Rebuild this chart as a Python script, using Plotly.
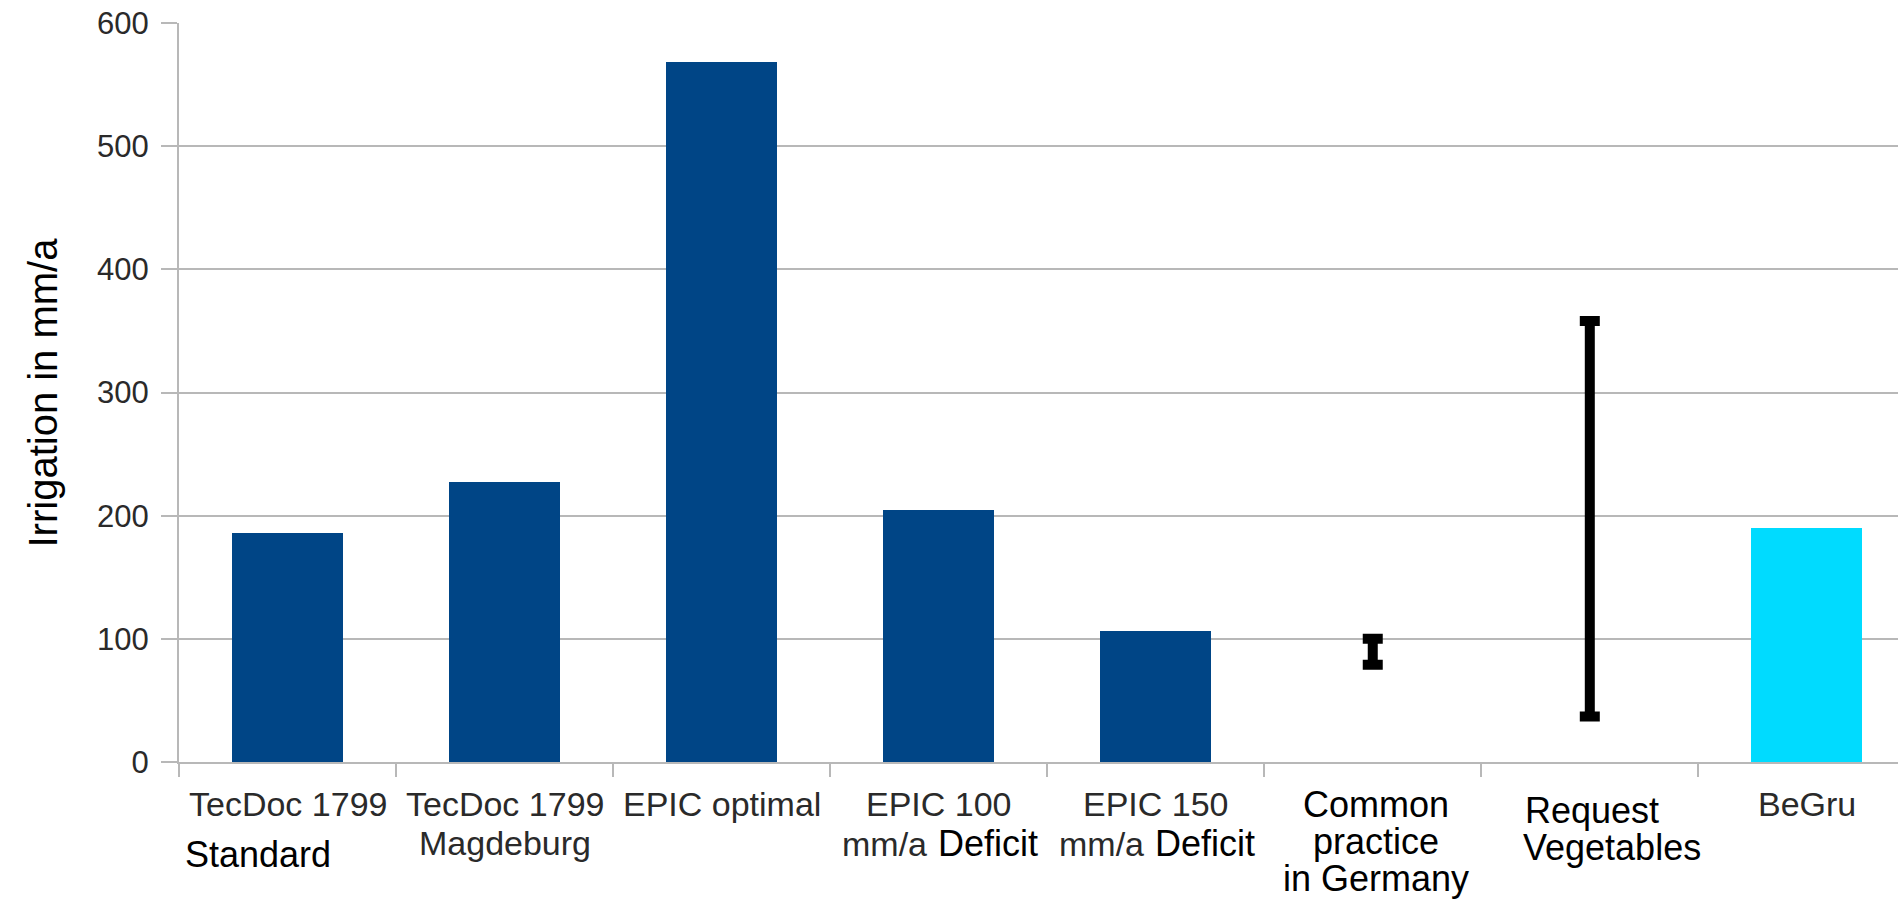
import plotly.graph_objects as go

# ---- data -------------------------------------------------------------
categories = [
    "TecDoc 1799 Standard",
    "TecDoc 1799 Magdeburg",
    "EPIC optimal",
    "EPIC 100 mm/a Deficit",
    "EPIC 150 mm/a Deficit",
    "Common practice in Germany",
    "Request Vegetables",
    "BeGru",
]

# single values shown as bars
bar_categories = [categories[0], categories[1], categories[2],
                  categories[3], categories[4], categories[7]]
bar_values = [186, 227, 568, 205, 106, 190]

# ranges shown as min/max whiskers
range_categories = [categories[5], categories[6]]
range_low = [79, 37]
range_high = [100, 358]

y_ticks = [0, 100, 200, 300, 400, 500, 600]
y_title = "Irrigation in mm/a"

# category label lines (first line from the chart software, extra lines added)
label_line1 = ["TecDoc 1799", "TecDoc 1799", "EPIC optimal", "EPIC 100",
               "EPIC 150", "", "", "BeGru"]
label_line2 = ["", "Magdeburg", "", "mm/a", "mm/a", "", "", ""]
note_standard = "Standard"
note_deficit = "Deficit"
note_common = ["Common", "practice", "in Germany"]
note_request = ["Request", "Vegetables"]

# ---- styling ----------------------------------------------------------
DARK_BLUE = "#004586"
CYAN = "#00dbff"
GRID = "#b8b8b8"
GREY_TEXT = "#2a2a2a"
FONT = "Liberation Sans, Arial, sans-serif"
W, H = 1898, 916
TOP, BOTTOM_Y = 23, 762          # pixel rows of 600 and 0
LEFT = 179

bar_colors = [DARK_BLUE] * 5 + [CYAN]

fig = go.Figure()

fig.add_bar(
    x=bar_categories, y=bar_values,
    marker=dict(color=bar_colors, line=dict(width=0)),
    width=0.51, hoverinfo="x+y",
)

mid = [(lo + hi) / 2 for lo, hi in zip(range_low, range_high)]
half = [(hi - lo) / 2 for lo, hi in zip(range_low, range_high)]
fig.add_scatter(
    x=range_categories, y=mid, mode="markers",
    marker=dict(opacity=0, size=1),
    error_y=dict(type="data", array=half, symmetric=True,
                 color="black", thickness=10, width=10),
    hoverinfo="skip",
)


def label(text, cat, baseline, size, color, dx=0):
    """Place one text line below the axis with its baseline at a pixel row."""
    center = baseline - 0.3465 * size
    fig.add_annotation(
        x=cat, xref="x", y=0, yref="paper",
        xanchor="center", yanchor="middle",
        xshift=dx, yshift=-(center - BOTTOM_Y),
        text=text, showarrow=False,
        font=dict(family=FONT, size=size, color=color),
    )


G_SIZE, B_SIZE = 34, 36
for i, t in enumerate(label_line1):
    if t:
        label(t, i, 816, G_SIZE, GREY_TEXT)
for i, t in enumerate(label_line2):
    if not t:
        continue
    if t == "mm/a":
        # grey unit followed by the added black word on the same line
        label(t, i, 856, G_SIZE, GREY_TEXT, dx=-54)
        label(note_deficit, i, 856, B_SIZE, "#000000", dx=49)
    else:
        label(t, i, 855, G_SIZE, GREY_TEXT)

label(note_standard, 0, 867, B_SIZE, "#000000", dx=-30)
for line, base in zip(note_common, [817, 854, 891]):
    label(line, 5, base, B_SIZE, "#000000", dx=3)
label(note_request[0], 6, 823, B_SIZE, "#000000", dx=2)
label(note_request[1], 6, 860, B_SIZE, "#000000", dx=22)

# y-axis title
fig.add_annotation(
    x=0, xref="paper", y=0.5, yref="paper", xshift=-(LEFT - 42),
    xanchor="center", yanchor="middle", textangle=-90,
    text=y_title, showarrow=False,
    font=dict(family=FONT, size=40, color="#000000"),
)

fig.update_layout(
    width=W, height=H,
    margin=dict(l=LEFT, r=0, t=TOP, b=H - BOTTOM_Y, pad=0),
    paper_bgcolor="white", plot_bgcolor="white",
    showlegend=False, bargap=0,
    font=dict(family=FONT),
)
fig.update_xaxes(
    type="category", categoryorder="array", categoryarray=categories,
    range=[-0.5, 7.42], showticklabels=False,
    ticks="outside", tickson="boundaries", ticklen=13,
    tickcolor=GRID, tickwidth=2,
    showline=True, linecolor=GRID, linewidth=2,
    showgrid=False, zeroline=False,
)
fig.update_yaxes(
    range=[0, 600], tickvals=y_ticks,
    ticks="outside", ticklen=16, tickcolor=GRID, tickwidth=2,
    showline=True, linecolor=GRID, linewidth=2,
    showgrid=True, gridcolor=GRID, gridwidth=2, zeroline=False,
    tickfont=dict(family=FONT, size=31, color=GREY_TEXT),
    ticklabelstandoff=6,
)

fig.write_html("out.html")
